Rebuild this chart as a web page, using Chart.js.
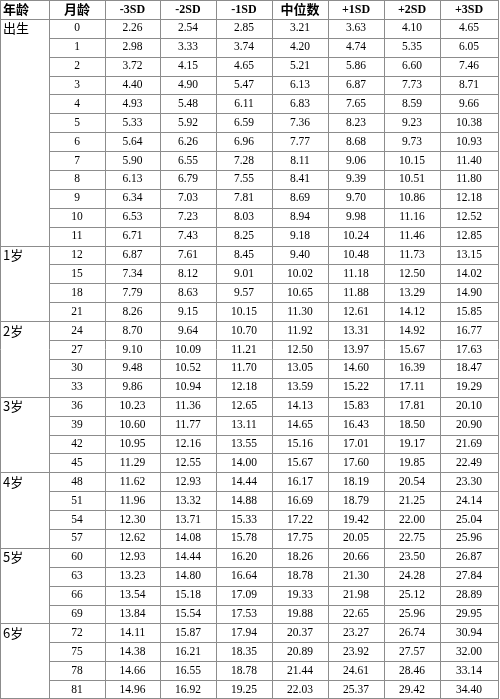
<!DOCTYPE html>
<html><head><meta charset="utf-8">
<script src="https://cdn.jsdelivr.net/npm/chart.js@4"></script>
<style>html,body{margin:0;padding:0;background:#fff}#w{width:500px;height:699px}</style>
</head><body><div id="w"><canvas id="c"></canvas></div>
<script>
const headers = ["年龄","月龄","-3SD","-2SD","-1SD","中位数","+1SD","+2SD","+3SD"];
const months = [0,1,2,3,4,5,6,7,8,9,10,11,12,15,18,21,24,27,30,33,36,39,42,45,48,51,54,57,60,63,66,69,72,75,78,81];
const ageLabels = {0:"出生",12:"1岁",24:"2岁",36:"3岁",48:"4岁",60:"5岁",72:"6岁"};
const sdM3 = [2.26,2.98,3.72,4.40,4.93,5.33,5.64,5.90,6.13,6.34,6.53,6.71,6.87,7.34,7.79,8.26,8.70,9.10,9.48,9.86,10.23,10.60,10.95,11.29,11.62,11.96,12.30,12.62,12.93,13.23,13.54,13.84,14.11,14.38,14.66,14.96];
const sdM2 = [2.54,3.33,4.15,4.90,5.48,5.92,6.26,6.55,6.79,7.03,7.23,7.43,7.61,8.12,8.63,9.15,9.64,10.09,10.52,10.94,11.36,11.77,12.16,12.55,12.93,13.32,13.71,14.08,14.44,14.80,15.18,15.54,15.87,16.21,16.55,16.92];
const sdM1 = [2.85,3.74,4.65,5.47,6.11,6.59,6.96,7.28,7.55,7.81,8.03,8.25,8.45,9.01,9.57,10.15,10.70,11.21,11.70,12.18,12.65,13.11,13.55,14.00,14.44,14.88,15.33,15.78,16.20,16.64,17.09,17.53,17.94,18.35,18.78,19.25];
const median = [3.21,4.20,5.21,6.13,6.83,7.36,7.77,8.11,8.41,8.69,8.94,9.18,9.40,10.02,10.65,11.30,11.92,12.50,13.05,13.59,14.13,14.65,15.16,15.67,16.17,16.69,17.22,17.75,18.26,18.78,19.33,19.88,20.37,20.89,21.44,22.03];
const sdP1 = [3.63,4.74,5.86,6.87,7.65,8.23,8.68,9.06,9.39,9.70,9.98,10.24,10.48,11.18,11.88,12.61,13.31,13.97,14.60,15.22,15.83,16.43,17.01,17.60,18.19,18.79,19.42,20.05,20.66,21.30,21.98,22.65,23.27,23.92,24.61,25.37];
const sdP2 = [4.10,5.35,6.60,7.73,8.59,9.23,9.73,10.15,10.51,10.86,11.16,11.46,11.73,12.50,13.29,14.12,14.92,15.67,16.39,17.11,17.81,18.50,19.17,19.85,20.54,21.25,22.00,22.75,23.50,24.28,25.12,25.96,26.74,27.57,28.46,29.42];
const sdP3 = [4.65,6.05,7.46,8.71,9.66,10.38,10.93,11.40,11.80,12.18,12.52,12.85,13.15,14.02,14.90,15.85,16.77,17.63,18.47,19.29,20.10,20.90,21.69,22.49,23.30,24.14,25.04,25.96,26.87,27.84,28.89,29.95,30.94,32.00,33.14,34.40];

const series = [sdM3,sdM2,sdM1,median,sdP1,sdP2,sdP3];
const colEdges = [0,49,105,160,216,272,328,384,440,498];
const nRows = months.length + 1;

const tablePlugin = {
  id:'table',
  afterDraw(chart){
    const ctx = chart.ctx, xs = chart.scales.x, ys = chart.scales.y;
    const X = v=>xs.getPixelForValue(v), Y = v=>ys.getPixelForValue(v);
    const last = colEdges.length-1;
    ctx.save();
    ctx.strokeStyle = '#8c8c8c'; ctx.lineWidth = 1;
    colEdges.forEach(e=>{const x=Math.round(X(e))+0.5;ctx.beginPath();ctx.moveTo(x,Y(0));ctx.lineTo(x,Y(nRows));ctx.stroke();});
    for(let r=0;r<=nRows;r++){
      const y = Math.min(Math.round(Y(r))+0.5, chart.height-0.5);
      const m = r>=1 && r<nRows ? months[r-1] : null;
      const full = r<=1 || r===nRows || (m!==null && ageLabels[m]!==undefined);
      ctx.beginPath();ctx.moveTo(X(full?colEdges[0]:colEdges[1]),y);ctx.lineTo(X(colEdges[last]),y);ctx.stroke();
    }
    ctx.textBaseline='middle'; ctx.fillStyle='#000';
    headers.forEach((h,i)=>{
      const cy = Y(0.5);
      ctx.font = /[\u4e00-\u9fff]/.test(h) ? 'bold 13px "Noto Sans CJK SC"' : 'bold 12px "Liberation Serif"';
      if(i===0){ctx.textAlign='left';ctx.fillText(h,X(colEdges[i])+3,cy);}
      else {ctx.textAlign='center';ctx.fillText(h,(X(colEdges[i])+X(colEdges[i+1]))/2,cy);}
    });
    months.forEach((m,r)=>{
      const cy = Y(r+1.5);
      if(ageLabels[m]!==undefined){
        ctx.font='13px "Noto Sans CJK SC"';ctx.textAlign='left';
        ctx.fillText(ageLabels[m],X(colEdges[0])+3,cy);
      }
      ctx.font='11.5px "Liberation Serif"';ctx.textAlign='center';
      ctx.fillText(String(m),(X(colEdges[1])+X(colEdges[2]))/2,cy);
      series.forEach((s,i)=>{
        ctx.fillText(s[r].toFixed(2),(X(colEdges[i+2])+X(colEdges[i+3]))/2,cy);
      });
    });
    ctx.restore();
  }
};

new Chart(document.getElementById('c'),{
  type:'scatter',
  data:{datasets:[{data:[],pointRadius:0}]},
  options:{
    responsive:true,maintainAspectRatio:false,animation:false,
    layout:{padding:0},
    plugins:{legend:{display:false},tooltip:{enabled:false}},
    scales:{
      x:{type:'linear',min:0,max:500,display:false},
      y:{type:'linear',min:0,max:nRows,reverse:true,display:false}
    }
  },
  plugins:[tablePlugin]
});
</script></body></html>
